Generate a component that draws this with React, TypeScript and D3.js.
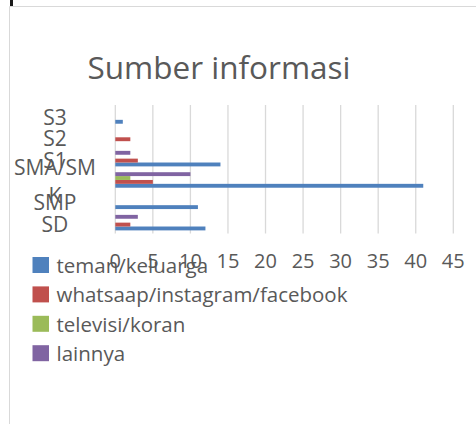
import React from "react";
import * as d3 from "d3";

// categories in Excel's order (first one drawn at the bottom)
const categories = ["SD", "SMP", "SMA/SMK", "S1", "S2", "S3"];
const seriesNames = [
  "teman/keluarga",
  "whatsaap/instagram/facebook",
  "televisi/koran",
  "lainnya",
];
const temanKeluarga = [12, 11, 41, 14, 0, 1];
const whatsappIgFb = [2, 0, 5, 3, 2, 0];
const televisiKoran = [0, 0, 2, 0, 0, 0];
const lainnya = [3, 0, 10, 2, 0, 0];
const xTicks = [0, 5, 10, 15, 20, 25, 30, 35, 40, 45];

const seriesValues = [temanKeluarga, whatsappIgFb, televisiKoran, lainnya];
const colors = ["#4f81bd", "#c0504d", "#9bbb59", "#8064a2"];

const width = 476;
const height = 424;
const textColor = "#595959";
const gridColor = "#d9d9d9";
const font = "'Open Sans', sans-serif";

// category labels that Excel wraps onto two lines
const wrapped: Record<string, string[]> = { "SMA/SMK": ["SMA/SM", "K"] };

export default function App() {
  const x = d3.scaleLinear().domain([0, 45]).range([115.3, 453.3]);

  // top-to-bottom: reverse of Excel order
  const y = d3
    .scaleBand<string>()
    .domain([...categories].reverse())
    .range([105.3, 233.3]);

  // gap width 150% -> 4 bars + 1.5 bar widths of gap per band
  const barH = y.bandwidth() / (seriesNames.length + 1.5);
  const inner = d3
    .scaleBand<number>()
    .domain([3, 2, 1, 0]) // series 0 at the bottom of each group
    .range([barH * 0.75, barH * 0.75 + barH * 4])
    .padding(0);

  return (
    <div style={{ position: "absolute", left: 0, top: 0 }}>
      <svg width={width} height={height} style={{ display: "block" }}>
        <rect width={width} height={height} fill="#fff" />
        {/* frame of the chart area */}
        <line x1={9.5} y1={6.5} x2={width} y2={6.5} stroke={gridColor} />
        <line x1={9.5} y1={6.5} x2={9.5} y2={height} stroke={gridColor} />
        <rect x={10} y={0} width={3} height={6} fill="#1a1a1a" />

        <text
          x={219}
          y={79}
          textAnchor="middle"
          fontFamily={font}
          fontSize={31.5}
          fill={textColor}
        >
          Sumber informasi
        </text>

        {/* gridlines */}
        {xTicks.map((t) => (
          <line
            key={t}
            x1={x(t)}
            x2={x(t)}
            y1={105}
            y2={233.5}
            stroke={gridColor}
            strokeWidth={1.3}
          />
        ))}

        {/* bars */}
        {categories.map((c, ci) =>
          seriesValues.map((vals, si) =>
            vals[ci] > 0 ? (
              <rect
                key={`${c}-${si}`}
                x={x(0)}
                y={(y(c) ?? 0) + (inner(si) ?? 0)}
                width={x(vals[ci]) - x(0)}
                height={inner.bandwidth()}
                fill={colors[si]}
              />
            ) : null
          )
        )}

        {/* category labels */}
        {categories.map((c) => {
          const cy = (y(c) ?? 0) + y.bandwidth() / 2;
          const lines = wrapped[c] ?? [c];
          const lh = 28.5;
          return lines.map((ln, i) => (
            <text
              key={`${c}-${i}`}
              x={55}
              y={cy + 9 + (i - (lines.length - 1) / 2) * lh}
              textAnchor="middle"
              fontFamily={font}
              fontSize={21}
              fill={textColor}
            >
              {ln}
            </text>
          ));
        })}

        {/* x tick labels */}
        {xTicks.map((t) => (
          <text
            key={t}
            x={x(t)}
            y={268}
            textAnchor="middle"
            fontFamily={font}
            fontSize={20}
            fill={textColor}
          >
            {t}
          </text>
        ))}

        {/* legend */}
        {seriesNames.map((name, i) => {
          const top = 257 + i * 29.4;
          return (
            <g key={name}>
              <rect x={32.5} y={top} width={16.5} height={16} fill={colors[i]} />
              <text
                x={56.5}
                y={top + 16}
                fontFamily={font}
                fontSize={20.5}
                fill={textColor}
              >
                {name}
              </text>
            </g>
          );
        })}
      </svg>
    </div>
  );
}
